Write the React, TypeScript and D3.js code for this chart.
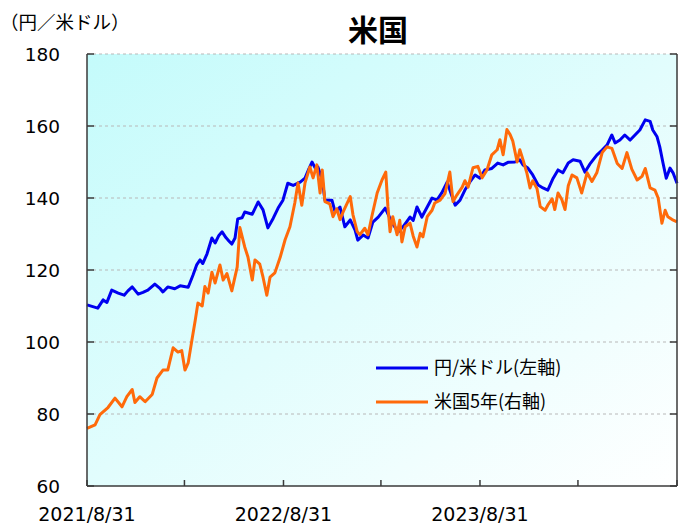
import React from "react";
import * as d3 from "d3";

// 円/米ドル (left axis)
const usdJpy: [string, number][] = [
  ["2021-08-31", 110.3], ["2021-09-20", 109.4], ["2021-09-30", 111.7], ["2021-10-07", 111.0],
  ["2021-10-16", 114.4], ["2021-10-28", 113.6], ["2021-11-08", 113.0], ["2021-11-15", 114.2],
  ["2021-11-23", 115.3], ["2021-12-04", 113.3], ["2021-12-13", 113.8], ["2021-12-22", 114.4],
  ["2022-01-04", 116.1], ["2022-01-14", 114.8], ["2022-01-19", 113.9], ["2022-01-28", 115.3],
  ["2022-02-10", 114.8], ["2022-02-20", 115.6], ["2022-03-07", 115.2], ["2022-03-16", 118.6],
  ["2022-03-23", 121.5], ["2022-03-29", 122.8], ["2022-04-03", 121.8], ["2022-04-11", 124.5],
  ["2022-04-20", 128.9], ["2022-04-26", 127.5], ["2022-05-03", 129.6], ["2022-05-09", 130.6],
  ["2022-05-16", 129.0], ["2022-05-22", 128.0], ["2022-05-27", 127.2], ["2022-06-02", 128.9],
  ["2022-06-07", 134.2], ["2022-06-15", 134.5], ["2022-06-20", 136.1], ["2022-07-04", 135.5],
  ["2022-07-15", 138.9], ["2022-07-24", 136.7], ["2022-08-02", 131.7], ["2022-08-12", 134.4],
  ["2022-08-21", 137.2], ["2022-08-30", 139.4], ["2022-09-08", 144.1], ["2022-09-18", 143.5],
  ["2022-10-01", 144.4], ["2022-10-10", 145.5], ["2022-10-17", 148.0], ["2022-10-23", 150.0],
  ["2022-10-29", 148.3], ["2022-11-03", 148.6], ["2022-11-11", 145.0], ["2022-11-16", 139.4],
  ["2022-11-29", 139.4], ["2022-12-05", 136.1], ["2022-12-14", 137.5], ["2022-12-23", 132.0],
  ["2023-01-02", 133.9], ["2023-01-11", 131.1], ["2023-01-16", 128.3], ["2023-01-26", 129.7],
  ["2023-02-04", 128.9], ["2023-02-13", 133.3], ["2023-02-23", 134.7], ["2023-03-08", 137.2],
  ["2023-03-21", 133.0], ["2023-04-01", 130.6], ["2023-04-10", 132.0], ["2023-04-23", 134.7],
  ["2023-04-29", 133.8], ["2023-05-06", 137.5], ["2023-05-15", 134.7], ["2023-05-25", 137.5],
  ["2023-06-03", 140.0], ["2023-06-12", 139.4], ["2023-06-21", 141.4], ["2023-07-01", 144.4],
  ["2023-07-10", 140.5], ["2023-07-16", 138.0], ["2023-07-25", 139.4], ["2023-08-03", 142.2],
  ["2023-08-12", 144.4], ["2023-08-22", 146.4], ["2023-08-31", 145.5], ["2023-09-09", 147.8],
  ["2023-09-22", 148.2], ["2023-10-03", 149.7], ["2023-10-13", 149.2], ["2023-10-22", 149.9],
  ["2023-11-04", 150.0], ["2023-11-13", 150.6], ["2023-11-19", 149.2], ["2023-11-28", 148.3],
  ["2023-12-07", 146.4], ["2023-12-17", 143.6], ["2023-12-26", 142.8], ["2024-01-04", 142.2],
  ["2024-01-14", 145.5], ["2024-01-23", 147.8], ["2024-02-01", 147.0], ["2024-02-11", 149.7],
  ["2024-02-20", 150.6], ["2024-03-04", 150.2], ["2024-03-13", 147.2], ["2024-03-22", 149.4],
  ["2024-04-04", 151.9], ["2024-04-14", 153.3], ["2024-04-23", 154.7], ["2024-05-02", 157.5],
  ["2024-05-08", 155.3], ["2024-05-17", 156.1], ["2024-05-26", 157.5], ["2024-06-05", 156.1],
  ["2024-06-14", 157.5], ["2024-06-23", 158.9], ["2024-07-03", 161.7], ["2024-07-12", 161.3],
  ["2024-07-17", 158.9], ["2024-07-25", 157.0], ["2024-07-30", 154.2], ["2024-08-05", 149.7],
  ["2024-08-11", 145.5], ["2024-08-18", 148.3], ["2024-08-24", 146.9], ["2024-08-31", 144.1],
];

// 米国5年 (right axis, %)
const us5y: [string, number][] = [
  ["2021-08-31", 0.80], ["2021-09-15", 0.85], ["2021-09-24", 0.99], ["2021-10-09", 1.09],
  ["2021-10-22", 1.22], ["2021-11-04", 1.10], ["2021-11-13", 1.24], ["2021-11-23", 1.34],
  ["2021-11-28", 1.16], ["2021-12-07", 1.24], ["2021-12-17", 1.17], ["2021-12-30", 1.27],
  ["2022-01-08", 1.50], ["2022-01-19", 1.61], ["2022-01-28", 1.61], ["2022-02-07", 1.92],
  ["2022-02-16", 1.86], ["2022-02-23", 1.88], ["2022-03-01", 1.61], ["2022-03-07", 1.71],
  ["2022-03-14", 2.03], ["2022-03-20", 2.30], ["2022-03-25", 2.54], ["2022-04-02", 2.50],
  ["2022-04-07", 2.77], ["2022-04-13", 2.68], ["2022-04-20", 2.97], ["2022-04-26", 2.82],
  ["2022-05-05", 3.07], ["2022-05-11", 2.86], ["2022-05-18", 2.95], ["2022-05-27", 2.71],
  ["2022-06-06", 3.04], ["2022-06-11", 3.59], ["2022-06-20", 3.32], ["2022-06-26", 3.18],
  ["2022-07-04", 2.86], ["2022-07-09", 3.14], ["2022-07-18", 3.08], ["2022-07-24", 2.90],
  ["2022-07-31", 2.65], ["2022-08-06", 2.90], ["2022-08-15", 2.96], ["2022-08-25", 3.18],
  ["2022-09-03", 3.42], ["2022-09-12", 3.60], ["2022-09-21", 3.93], ["2022-09-27", 4.21],
  ["2022-10-04", 3.90], ["2022-10-10", 4.21], ["2022-10-19", 4.43], ["2022-10-25", 4.28],
  ["2022-11-01", 4.46], ["2022-11-07", 4.07], ["2022-11-11", 4.39], ["2022-11-16", 3.95],
  ["2022-11-25", 3.92], ["2022-12-01", 3.74], ["2022-12-08", 3.85], ["2022-12-14", 3.70],
  ["2022-12-20", 3.81], ["2023-01-02", 4.02], ["2023-01-07", 3.77], ["2023-01-15", 3.53],
  ["2023-01-20", 3.49], ["2023-01-29", 3.58], ["2023-02-04", 3.49], ["2023-02-11", 3.74],
  ["2023-02-21", 4.07], ["2023-03-02", 4.25], ["2023-03-09", 4.36], ["2023-03-13", 3.88],
  ["2023-03-17", 3.53], ["2023-03-22", 3.74], ["2023-03-30", 3.49], ["2023-04-04", 3.69],
  ["2023-04-08", 3.39], ["2023-04-14", 3.60], ["2023-04-23", 3.65], ["2023-04-29", 3.47],
  ["2023-05-06", 3.32], ["2023-05-12", 3.51], ["2023-05-17", 3.46], ["2023-05-25", 3.74],
  ["2023-06-03", 3.83], ["2023-06-08", 3.93], ["2023-06-18", 3.97], ["2023-06-27", 4.06],
  ["2023-07-06", 4.36], ["2023-07-12", 3.95], ["2023-07-19", 4.04], ["2023-07-29", 4.15],
  ["2023-08-03", 4.24], ["2023-08-09", 4.15], ["2023-08-18", 4.42], ["2023-08-27", 4.44],
  ["2023-09-04", 4.28], ["2023-09-13", 4.39], ["2023-09-22", 4.60], ["2023-10-02", 4.67],
  ["2023-10-07", 4.81], ["2023-10-13", 4.60], ["2023-10-20", 4.95], ["2023-10-26", 4.88],
  ["2023-10-31", 4.79], ["2023-11-08", 4.50], ["2023-11-13", 4.67], ["2023-11-19", 4.53],
  ["2023-11-26", 4.35], ["2023-12-02", 4.14], ["2023-12-07", 4.24], ["2023-12-15", 4.13],
  ["2023-12-21", 3.88], ["2023-12-30", 3.83], ["2024-01-04", 3.90], ["2024-01-12", 3.99],
  ["2024-01-17", 3.84], ["2024-01-23", 4.07], ["2024-01-30", 3.98], ["2024-02-05", 3.84],
  ["2024-02-11", 4.17], ["2024-02-18", 4.32], ["2024-02-27", 4.28], ["2024-03-07", 4.07],
  ["2024-03-17", 4.35], ["2024-03-26", 4.23], ["2024-04-04", 4.35], ["2024-04-14", 4.63],
  ["2024-04-23", 4.71], ["2024-05-02", 4.69], ["2024-05-12", 4.48], ["2024-05-21", 4.41],
  ["2024-05-30", 4.63], ["2024-06-08", 4.40], ["2024-06-18", 4.25], ["2024-06-27", 4.30],
  ["2024-07-03", 4.41], ["2024-07-12", 4.14], ["2024-07-21", 4.11], ["2024-07-27", 4.00],
  ["2024-08-03", 3.65], ["2024-08-09", 3.83], ["2024-08-14", 3.74], ["2024-08-22", 3.70],
  ["2024-08-31", 3.67],
];

const yTicks = [60, 80, 100, 120, 140, 160, 180];
const xTickDates = ["2021-08-31", "2022-02-28", "2022-08-31", "2023-02-28", "2023-08-31", "2024-02-29", "2024-08-31"];
const xLabels: [string, string][] = [
  ["2021-08-31", "2021/8/31"],
  ["2022-08-31", "2022/8/31"],
  ["2023-08-31", "2023/8/31"],
];
const legendItems = [
  { label: "円/米ドル(左軸)", color: "#0000f0" },
  { label: "米国5年(右軸)", color: "#ff6a0a" },
];

const parse = d3.timeParse("%Y-%m-%d");

export default function App() {
  const W = 680, H = 524;
  const L = 87, R = 677, T = 54, B = 486;
  const x = d3.scaleTime().domain([parse("2021-08-31")!, parse("2024-08-31")!]).range([L, R]);
  const yL = d3.scaleLinear().domain([60, 180]).range([B, T]);
  const yR = d3.scaleLinear().domain([0, 6]).range([B, T]);

  const lineL = d3.line<[string, number]>().x(d => x(parse(d[0])!)).y(d => yL(d[1]));
  const lineR = d3.line<[string, number]>().x(d => x(parse(d[0])!)).y(d => yR(d[1]));

  const axisColor = "#3a3a3a";
  const numFont = "'DejaVu Sans', Verdana, sans-serif";
  const jpFont = "'Noto Sans CJK JP', sans-serif";

  return (
    <svg width={W} height={H} style={{ position: "absolute", left: 0, top: 0 }}>
      <defs>
        <linearGradient id="bg" x1="0" y1="0" x2="1" y2="1">
          <stop offset="0%" stopColor="#c4fbfb" />
          <stop offset="100%" stopColor="#ffffff" />
        </linearGradient>
      </defs>
      <rect x={0} y={0} width={W} height={H} fill="#ffffff" />
      <rect x={L} y={T} width={R - L} height={B - T} fill="url(#bg)" />

      {yTicks.filter(v => v > 60).map(v => (
        <line key={"g" + v} x1={L} x2={R} y1={yL(v)} y2={yL(v)} stroke="#b8b8b8" strokeWidth={1} strokeDasharray="3,3" />
      ))}

      <path d={lineL(usdJpy) || ""} fill="none" stroke={legendItems[0].color} strokeWidth={3} strokeLinejoin="round" />
      <path d={lineR(us5y) || ""} fill="none" stroke={legendItems[1].color} strokeWidth={3} strokeLinejoin="round" />

      {/* axes */}
      <line x1={L} x2={L} y1={T} y2={B} stroke={axisColor} strokeWidth={1.5} />
      <line x1={R} x2={R} y1={T} y2={B} stroke={axisColor} strokeWidth={1.5} />
      <line x1={L} x2={R} y1={B} y2={B} stroke={axisColor} strokeWidth={1.5} />
      {yTicks.map(v => (
        <g key={"t" + v}>
          <line x1={L} x2={L + 7} y1={yL(v)} y2={yL(v)} stroke={axisColor} strokeWidth={1.5} />
          <line x1={R - 7} x2={R} y1={yL(v)} y2={yL(v)} stroke={axisColor} strokeWidth={1.5} />
          <text x={60} y={yL(v)} dy="0.36em" textAnchor="end" fontFamily={numFont} fontSize={18.5} fill="#000">{v}</text>
        </g>
      ))}
      {xTickDates.map(d => (
        <line key={"x" + d} x1={x(parse(d)!)} x2={x(parse(d)!)} y1={B} y2={B - 6} stroke={axisColor} strokeWidth={1.5} />
      ))}
      {xLabels.map(([d, lab]) => (
        <text key={"xl" + d} x={x(parse(d)!)} y={521} textAnchor="middle" fontFamily={numFont} fontSize={19} fill="#000">{lab}</text>
      ))}

      {/* title and unit */}
      <text x={378} y={41} textAnchor="middle" fontFamily={jpFont} fontWeight="bold" fontSize={30} fill="#000">米国</text>
      <text x={0} y={29} fontFamily={jpFont} fontSize={18.5} fill="#000">（円／米ドル）</text>

      {/* legend */}
      {legendItems.map((it, i) => (
        <g key={it.label}>
          <line x1={376} x2={428} y1={368 + i * 34} y2={368 + i * 34} stroke={it.color} strokeWidth={3} />
          <text x={434} y={368 + i * 34} dy="0.36em" fontFamily={jpFont} fontSize={18} fill="#000">{it.label}</text>
        </g>
      ))}
    </svg>
  );
}
